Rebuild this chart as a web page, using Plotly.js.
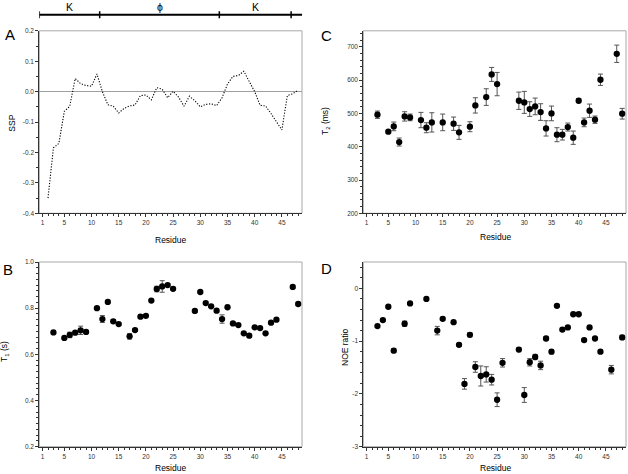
<!DOCTYPE html>
<html><head><meta charset="utf-8">
<script src="https://cdn.plot.ly/plotly-3.0.1.min.js"></script>
<style>html,body{margin:0;padding:0;background:#fff}#chart{width:628px;height:474px}</style>
</head><body><div id="chart"></div>
<script>
// ---------- data ----------
const sspResidues = [2,3,4,5,6,7,8,9,10,11,12,13,14,15,16,17,18,19,20,21,22,23,24,25,26,27,28,29,30,31,32,33,34,35,36,37,38,39,40,41,42,43,44,45,46,47,48];
const sspValues = [-0.35,-0.185,-0.17,-0.065,-0.048,0.043,0.026,0.02,0.018,0.058,0.0,-0.043,-0.048,-0.07,-0.055,-0.047,-0.044,-0.013,-0.011,-0.027,0.013,0.008,-0.02,0.001,-0.018,-0.048,-0.015,-0.03,-0.05,-0.042,-0.04,-0.046,-0.02,0.025,0.05,0.053,0.067,0.035,0.0,-0.045,-0.047,-0.072,-0.1,-0.126,-0.013,-0.007,0.005];

const t1Residues = [3,5,6,7,8,9,11,12,13,14,15,17,18,19,20,21,22,23,24,25,29,30,31,32,33,34,35,36,37,38,39,40,41,42,43,44,47,48];
const t1Values = [0.695,0.671,0.684,0.694,0.704,0.697,0.800,0.753,0.827,0.743,0.731,0.678,0.705,0.763,0.767,0.833,0.883,0.894,0.900,0.884,0.788,0.870,0.822,0.808,0.789,0.753,0.804,0.734,0.727,0.691,0.681,0.717,0.714,0.691,0.737,0.750,0.892,0.818];
const t1Errors = [0.004,0.004,0.012,0.005,0.018,0.005,0.005,0.015,0.005,0.008,0.005,0.012,0.005,0.005,0.004,0.005,0.012,0.025,0.005,0.006,0.006,0.005,0.005,0.005,0.005,0.018,0.005,0.005,0.005,0.005,0.005,0.005,0.005,0.005,0.005,0.005,0.006,0.005];

const t2Residues = [3,5,6,7,8,9,11,12,13,15,17,18,20,21,23,24,25,29,30,31,32,33,34,35,36,37,38,39,40,41,42,43,44,47,48];
const t2Values = [496,445,461,414,491,488,480,457,473,473,469,443,460,524,549,617,588,538,533,513,521,504,455,500,436,436,459,427,538,473,508,481,601,679,499];
const t2Errors = [11,5,13,12,14,10,23,15,29,25,20,21,15,23,25,21,35,26,33,22,25,25,23,22,21,16,12,20,6,13,20,11,17,26,16];

const noeResidues = [3,4,5,6,8,9,12,14,15,17,18,19,20,21,22,23,24,25,26,29,30,31,32,33,34,35,36,37,38,39,40,41,42,43,44,46,48];
const noeValues = [-0.715,-0.60,-0.348,-1.18,-0.67,-0.285,-0.20,-0.80,-0.576,-0.64,-1.07,-1.81,-0.88,-1.49,-1.66,-1.63,-1.73,-2.11,-1.41,-1.16,-2.02,-1.40,-1.30,-1.46,-0.95,-1.20,-0.33,-0.78,-0.74,-0.49,-0.49,-0.98,-0.74,-0.95,-1.20,-1.54,-0.93];
const noeErrors = [0.02,0.02,0.02,0.03,0.05,0.02,0.02,0.08,0.03,0.02,0.03,0.10,0.04,0.10,0.19,0.145,0.10,0.13,0.08,0.04,0.14,0.07,0.05,0.08,0.04,0.04,0.02,0.03,0.02,0.02,0.02,0.03,0.02,0.02,0.03,0.08,0.04];

const xTickVals = [1,5,10,15,20,25,30,35,40,45];
const xTickText = ['1','5','10','15','20','25','30','35','40','45'];
const sspTickVals = [-0.4,-0.3,-0.2,-0.1,0.0,0.1,0.2];
const sspTickText = ['-0.4','-0.3','-0.2','-0.1','0.0','0.1','0.2'];
const t1TickVals = [0.2,0.4,0.6,0.8,1.0];
const t1TickText = ['0.2','0.4','0.6','0.8','1.0'];
const t2TickVals = [200,300,400,500,600,700];
const t2TickText = ['200','300','400','500','600','700'];
const noeTickVals = [-3,-2,-1,0];
const noeTickText = ['-3','-2','-1','0'];

// domain regions (residue boundaries) for the top bar
const regionBounds = [0.4, 11.5, 33.5, 46.7];
const regionEnd = 48.7;
const regionLabels = ['K', '\u03D5', 'K'];

// ---------- layout helpers ----------
const W = 628, H = 474;
const px = x => x / W;
const py = y => 1 - y / H;
const FONT = 'Liberation Sans, Arial, sans-serif';
const XR = [0.4, 48.7];
const dLeft = [px(39.3), px(302)];
const dRight = [px(363.3), px(626)];
const dTop = [py(213.3), py(30.8)];
const dBot = [py(446.7), py(262)];

function xAxis(domain, anchor) {
  return {
    domain: domain, anchor: anchor, range: XR, showgrid: false, zeroline: false,
    showline: true, linecolor: '#333', linewidth: 1, mirror: false,
    ticks: 'outside', ticklen: 3, tickwidth: 1, tickcolor: '#333',
    tickmode: 'array', tickvals: xTickVals, ticktext: xTickText,
    tickfont: {family: FONT, size: 6.5, color: '#333'},
    minor: {tickmode: 'linear', tick0: 0, dtick: 1, ticklen: 2, tickwidth: 1, tickcolor: '#333', showgrid: false},
    fixedrange: true
  };
}
function yAxis(domain, anchor, range, tv, tt, mdt, zl) {
  return {
    domain: domain, anchor: anchor, range: range, showgrid: false,
    zeroline: !!zl, zerolinecolor: '#a0a0a0', zerolinewidth: 1.5,
    showline: true, linecolor: '#333', linewidth: 1, mirror: false,
    ticks: 'outside', ticklen: 3, tickwidth: 1, tickcolor: '#333',
    tickmode: 'array', tickvals: tv, ticktext: tt,
    tickfont: {family: FONT, size: 6.5, color: '#333'},
    minor: {tickmode: 'linear', tick0: 0, dtick: mdt, ticklen: 2, tickwidth: 1, tickcolor: '#333', showgrid: false},
    fixedrange: true
  };
}

const errStyle = arr => ({type: 'data', array: arr, visible: true, color: '#555', thickness: 1, width: 2.5});
const mk = {color: '#000', size: 6.3};

const traces = [
  {x: sspResidues, y: sspValues, type: 'scatter', mode: 'lines', xaxis: 'x', yaxis: 'y',
   line: {color: '#000', width: 1.1, dash: '1.2px,1.6px'}, hoverinfo: 'x+y'},
  {x: t2Residues, y: t2Values, type: 'scatter', mode: 'markers', xaxis: 'x2', yaxis: 'y2',
   marker: mk, error_y: errStyle(t2Errors)},
  {x: t1Residues, y: t1Values, type: 'scatter', mode: 'markers', xaxis: 'x3', yaxis: 'y3',
   marker: mk, error_y: errStyle(t1Errors)},
  {x: noeResidues, y: noeValues, type: 'scatter', mode: 'markers', xaxis: 'x4', yaxis: 'y4',
   marker: mk, error_y: errStyle(noeErrors)}
];

const shapes = [];
['x', 'x2', 'x3', 'x4'].forEach((xa, i) => {
  const ya = ['y', 'y2', 'y3', 'y4'][i];
  shapes.push({type: 'rect', xref: xa + ' domain', yref: ya + ' domain', x0: 0, x1: 1, y0: 0, y1: 1,
               line: {color: '#a8a8a8', width: 1}, layer: 'below'});
});
// top domain bar
shapes.push({type: 'line', xref: 'x', yref: 'paper', x0: regionBounds[0], x1: regionEnd,
             y0: py(14.7), y1: py(14.7), line: {color: '#000', width: 2}});
regionBounds.forEach(b => {
  shapes.push({type: 'line', xref: 'x', yref: 'paper', x0: b, x1: b, y0: py(11.3), y1: py(18.2),
               line: {color: '#000', width: 1.5}});
});

const ann = [];
const bnds = regionBounds.concat([regionEnd]);
regionLabels.forEach((t, i) => {
  ann.push({text: t, xref: 'x', yref: 'paper', x: (bnds[i] + bnds[i + 1]) / 2, y: py(6.5),
            showarrow: false, font: {family: FONT, size: 10.5, color: '#000'}, xanchor: 'center', yanchor: 'middle'});
});
function txt(t, x, y, size, angle) {
  ann.push({text: t, xref: 'paper', yref: 'paper', x: px(x), y: py(y), showarrow: false,
            textangle: angle || 0, xanchor: 'center', yanchor: 'middle',
            font: {family: FONT, size: size, color: '#000'}});
}
// panel letters
txt('A', 9.5, 34, 15); txt('B', 7.5, 269, 15); txt('C', 326, 35.5, 15); txt('D', 326.7, 268, 15);
// axis titles
txt('SSP', 11.7, 123, 8.5, -90);
txt('T<sub>1</sub> (s)', 4, 352, 8.5, -90);
txt('T<sub>2</sub> (ms)', 325, 121, 8.5, -90);
txt('NOE ratio', 345, 347, 8.5, -90);
txt('Residue', 170, 240, 8.5);
txt('Residue', 170, 468, 8.5);
txt('Residue', 495.7, 236.7, 8.5);
txt('Residue', 495.3, 468, 8.5);

const layout = {
  width: W, height: H, autosize: false,
  margin: {l: 0, r: 0, t: 0, b: 0, pad: 0},
  paper_bgcolor: '#fff', plot_bgcolor: '#fff', showlegend: false,
  font: {family: FONT, color: '#000'},
  xaxis: xAxis(dLeft, 'y'),
  yaxis: yAxis(dTop, 'x', [-0.4, 0.2], sspTickVals, sspTickText, 0.05, true),
  xaxis2: xAxis(dRight, 'y2'),
  yaxis2: yAxis(dTop, 'x2', [200, 748], t2TickVals, t2TickText, 20),
  xaxis3: xAxis(dLeft, 'y3'),
  yaxis3: yAxis(dBot, 'x3', [0.2, 1.0], t1TickVals, t1TickText, 0.025),
  xaxis4: xAxis(dRight, 'y4'),
  yaxis4: yAxis(dBot, 'x4', [-3, 0.5], noeTickVals, noeTickText, 0.2),
  shapes: shapes, annotations: ann
};

Plotly.newPlot('chart', traces, layout, {displayModeBar: false, staticPlot: true});
</script></body></html>
